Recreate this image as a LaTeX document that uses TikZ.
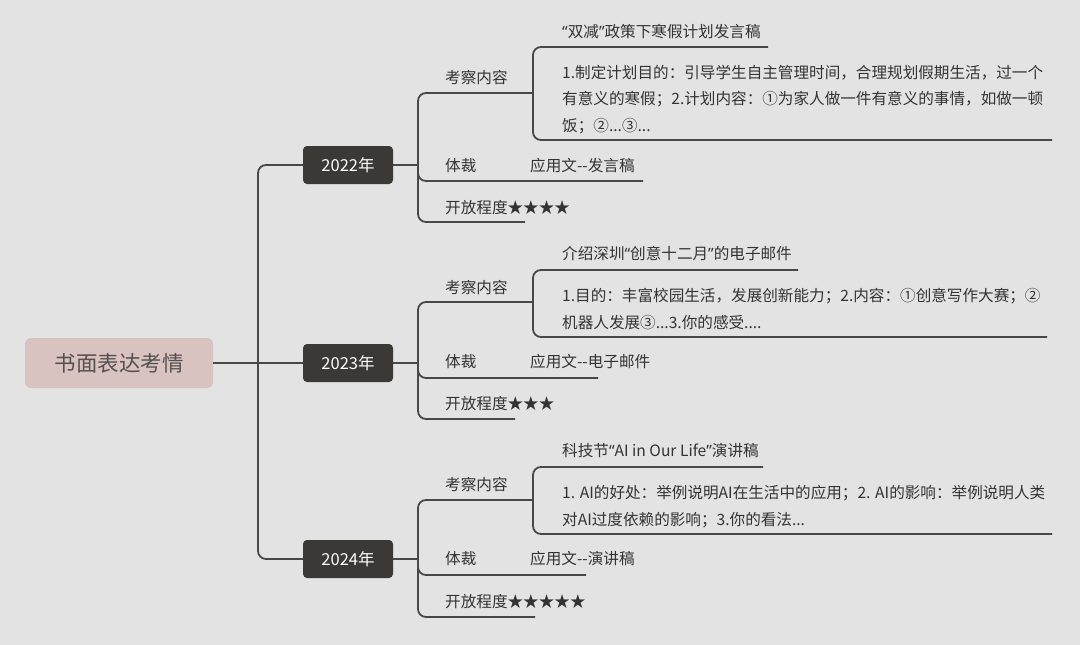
\documentclass[tikz,border=0pt]{standalone}
\usepackage{fontspec}
\setmainfont{Noto Sans CJK SC}
\newfontfamily\latq{Noto Sans}
\newcommand\ql{{\latq “}}
\newcommand\qr{{\latq ”}}
\definecolor{bg}{HTML}{E3E3E3}
\definecolor{linec}{HTML}{484848}
\definecolor{txtc}{HTML}{333333}
\definecolor{yearc}{HTML}{3A3936}
\definecolor{rootc}{HTML}{D9C3C1}
\definecolor{rootfg}{HTML}{555050}
\begin{document}
\begin{tikzpicture}[x=1pt,y=-1pt,
  txt/.style={anchor=base west, inner sep=0pt, text=txtc, font=\fontsize{15.6}{26.5}\selectfont},
  desc/.style={txt, align=left},
  conn/.style={draw=linec, line width=1.8pt, rounded corners=8pt},
  year/.style={fill=yearc, rounded corners=4pt, minimum width=90pt, minimum height=38pt, inner sep=0pt, text=white, font=\fontsize{16.5}{20}\selectfont},
  rootbox/.style={fill=rootc, rounded corners=6pt, minimum width=188pt, minimum height=50pt, inner sep=0pt, text=rootfg, font=\fontsize{21.5}{26}\selectfont}]
\useasboundingbox (0,0) rectangle (1080,645);
\fill[bg] (0,0) rectangle (1080,645);

% root and years
\node[rootbox] (root) at (119,363) {书面表达考情};
\node[year] (y22) at (348,165) {2022年};
\node[year] (y23) at (348,363) {2023年};
\node[year] (y24) at (348,559) {2024年};
\draw[conn] (root.east) -- (y23.west);
\draw[conn] (y22.west) -- (258,165) -- (258,559) -- (y24.west);

% ---------- 2022 ----------
\coordinate (b22) at (418,165);
\coordinate (k22) at (533,93);
\coordinate (s22) at (768,47);
\coordinate (d22) at (1052,140);
\coordinate (t22) at (643,181);
\coordinate (o22) at (525,222);
\draw[conn] (y22.east) -- (b22);
\draw[conn] (b22) |- (k22);
\draw[conn] (b22) |- (t22);
\draw[conn] (b22) |- (o22);
\draw[conn] (k22) |- (s22);
\draw[conn] (k22) |- (d22);
\node[txt] (k22t) at (445,83) {考察内容};
\node[txt] (s22t) at (562,37) {\ql 双减\qr 政策下寒假计划发言稿};
\node[desc] (d22t) at (562,131) {1.制定计划目的：引导学生自主管理时间，合理规划假期生活，过一个\\有意义的寒假；2.计划内容：①为家人做一件有意义的事情，如做一顿\\饭；②...③...};
\node[txt] (t22t) at (445,171) {体裁};
\node[txt] (g22t) at (530,171) {应用文-{}-发言稿};
\node[txt] (o22t) at (445,213) {开放程度★★★★};

% ---------- 2023 ----------
\coordinate (b23) at (418,363);
\coordinate (k23) at (533,302);
\coordinate (s23) at (798,270);
\coordinate (d23) at (1047,337);
\coordinate (t23) at (598,378);
\coordinate (o23) at (515,419);
\draw[conn] (y23.east) -- (b23);
\draw[conn] (b23) |- (k23);
\draw[conn] (b23) |- (t23);
\draw[conn] (b23) |- (o23);
\draw[conn] (k23) |- (s23);
\draw[conn] (k23) |- (d23);
\node[txt] (k23t) at (445,293) {考察内容};
\node[txt] (s23t) at (562,259) {介绍深圳\ql 创意十二月\qr 的电子邮件};
\node[desc] (d23t) at (562,328) {1.目的：丰富校园生活，发展创新能力；2.内容：①创意写作大赛；②\\机器人发展③...3.你的感受....};
\node[txt] (t23t) at (445,367) {体裁};
\node[txt] (g23t) at (530,367) {应用文-{}-电子邮件};
\node[txt] (o23t) at (445,409) {开放程度★★★};

% ---------- 2024 ----------
\coordinate (b24) at (418,559);
\coordinate (k24) at (533,500);
\coordinate (s24) at (763,467);
\coordinate (d24) at (1052,534);
\coordinate (t24) at (586,575);
\coordinate (o24) at (535,617);
\draw[conn] (y24.east) -- (b24);
\draw[conn] (b24) |- (k24);
\draw[conn] (b24) |- (t24);
\draw[conn] (b24) |- (o24);
\draw[conn] (k24) |- (s24);
\draw[conn] (k24) |- (d24);
\node[txt] (k24t) at (445,490) {考察内容};
\node[txt] (s24t) at (562,456) {科技节\ql AI in Our Life\qr 演讲稿};
\node[desc] (d24t) at (562,525) {1. AI的好处：举例说明AI在生活中的应用；2. AI的影响：举例说明人类\\对AI过度依赖的影响；3.你的看法...};
\node[txt] (t24t) at (445,564) {体裁};
\node[txt] (g24t) at (530,564) {应用文-{}-演讲稿};
\node[txt] (o24t) at (445,607) {开放程度★★★★★};
\end{tikzpicture}
\end{document}
